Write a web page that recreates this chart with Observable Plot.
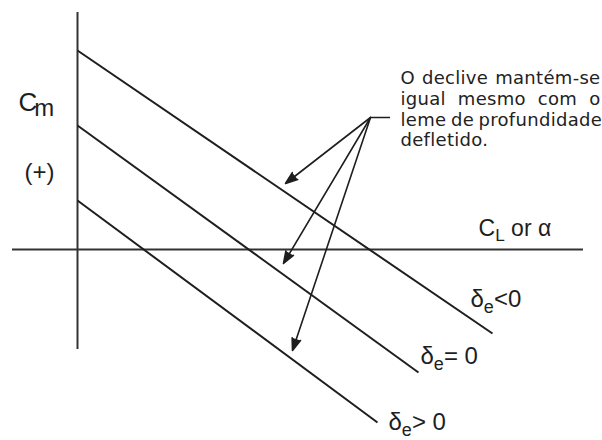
<!DOCTYPE html>
<html><head><meta charset="utf-8">
<script src="https://cdn.jsdelivr.net/npm/d3@7"></script>
<script src="https://cdn.jsdelivr.net/npm/@observablehq/plot@0.6"></script>
<style>html,body{margin:0;padding:0;background:#fff;}</style>
</head><body><div id="chart"></div>
<script>
// ---- chart values (units: CL/α to the right, Cm upward, origin at the axes crossing)
const deflection = ["δ_e<0", "δ_e= 0", "δ_e> 0"];
const cmAtZero   = [19.9, 12.4, 4.9];      // Cm where each line meets the Cm axis
const clEnd      = [41.5, 34.1, 30.0];     // CL at the end of each line
const cmEnd      = [-8.4, -12.3, -17.3];   // Cm at the end of each line
const labelCL    = [39.3, 34.3, 31.1];     // deflection label anchors
const labelCm    = [-5.7, -11.4, -18.0];

const clAxisExtent = [-6.5, 50.6];
const cmAxisExtent = [-10.0, 23.7];

const arrowFrom  = [29.3, 13.2];
const arrowToCL  = [20.8, 20.6, 21.5];
const arrowToCm  = [6.6, -1.4, -10.1];
const noteStub   = 2.0;

const noteLines  = ["O declive mantém-se", "igual mesmo com o", "leme de profundidade", "defletido."];
const noteCm     = [16.6, 14.5, 12.4, 10.4];
const noteLeft   = 32.3, noteRight = 52.3;

const axisLabels = [
  {text: "C_m", x: -5.9, y: 13.9, size: 26},
  {text: "(+)", x: -5.3, y: 7.0, size: 24},
  {text: "C_L or α", x: 40.1, y: 1.4, size: 23}
];

// ---- build tables
const lines = deflection.map((d, i) => ({name: d, x1: 0, y1: cmAtZero[i], x2: clEnd[i], y2: cmEnd[i], lx: labelCL[i], ly: labelCm[i]}));
const arrows = arrowToCL.map((x, i) => ({x1: arrowFrom[0], y1: arrowFrom[1], x2: x, y2: arrowToCm[i]}));
const notes = noteLines.map((t, i) => ({text: t, x: noteLeft, y: noteCm[i], justify: i < noteLines.length - 1}));

const ink = "#1e1e1e";
const sans = "'Liberation Sans', Arial, sans-serif";

const chart = Plot.plot({
  width: 602, height: 440, margin: 0,
  x: {domain: [-7.7, 52.5], axis: null},
  y: {domain: [-19.1, 24.9], axis: null},
  marks: [
    Plot.ruleX([0], {y1: cmAxisExtent[0], y2: cmAxisExtent[1], stroke: "#333", strokeWidth: 2}),
    Plot.ruleY([0], {x1: clAxisExtent[0], x2: clAxisExtent[1], stroke: "#333", strokeWidth: 2}),
    Plot.link(lines, {x1: "x1", y1: "y1", x2: "x2", y2: "y2", stroke: ink, strokeWidth: 2}),
    Plot.ruleY([arrowFrom[1]], {x1: arrowFrom[0], x2: arrowFrom[0] + noteStub, stroke: ink, strokeWidth: 1.5}),
    Plot.arrow(arrows, {x1: "x1", y1: "y1", x2: "x2", y2: "y2", stroke: ink, fill: ink, strokeWidth: 1.6, headLength: 12, headAngle: 40}),
    Plot.text(lines, {x: "lx", y: "ly", text: "name", textAnchor: "start", lineAnchor: "bottom", fontSize: 24, fontFamily: sans, fill: ink}),
    ...axisLabels.map(d => Plot.text([d], {x: "x", y: "y", text: "text", textAnchor: "start", lineAnchor: "bottom", fontSize: d.size, fontFamily: sans, fill: ink})),
    Plot.text(notes, {x: "x", y: "y", text: "text", textAnchor: "start", lineAnchor: "bottom", fontSize: 18, fontFamily: "'DejaVu Sans', sans-serif", fill: "#222"})
  ]
});
document.getElementById("chart").appendChild(chart);

// subscripts
const subStyle = {"C_m": {scale: 0.92, shift: 0.22, dx: -0.12}};
d3.select(chart).selectAll("text").each(function() {
  const t = this.textContent;
  const m = t.match(/^(.*?)_(.)(.*)$/);
  if (!m) return;
  const fs = parseFloat(getComputedStyle(this).fontSize);
  const st = subStyle[t] || {scale: 0.75, shift: 0.26, dx: 0};
  const sel = d3.select(this);
  sel.text(null);
  sel.append("tspan").text(m[1]);
  sel.append("tspan").attr("font-size", fs * st.scale).attr("dy", fs * st.shift).attr("dx", fs * st.dx).text(m[2]);
  if (m[3]) sel.append("tspan").attr("dy", -fs * st.shift).text(m[3]);
});

// justify note lines
const xs = chart.scale("x");
const target = xs.apply(noteRight) - xs.apply(noteLeft);
d3.select(chart).selectAll("text").each(function() {
  const t = this.textContent;
  const n = notes.find(d => d.text === t);
  if (!n) return;
  this.setAttribute("letter-spacing", "0.3");
  if (!n.justify) return;
  const spaces = (t.match(/ /g) || []).length;
  const len = this.getComputedTextLength();
  if (spaces) this.setAttribute("word-spacing", Math.max(-1.5, (target - len) / spaces));
});
</script>
</body></html>
